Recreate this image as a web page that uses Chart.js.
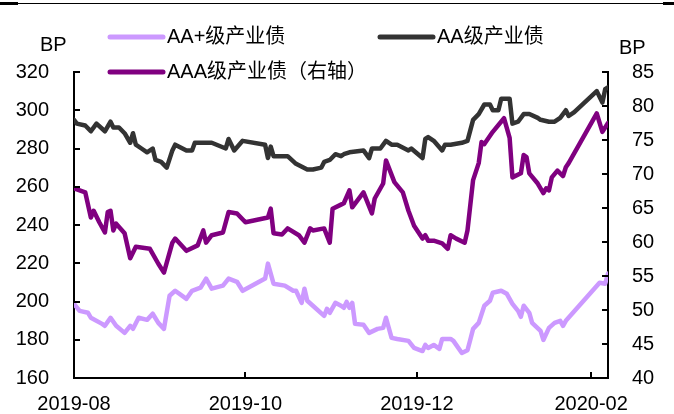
<!DOCTYPE html>
<html lang="zh-CN">
<head>
<meta charset="utf-8">
<title>产业债信用利差</title>
<script src="https://cdn.jsdelivr.net/npm/chart.js@4.4.1/dist/chart.umd.min.js"></script>
<style>
  html, body { margin: 0; padding: 0; background: #fff; }
  #wrap { position: relative; width: 674px; height: 414px; }
</style>
</head>
<body>
<div id="wrap"><canvas id="spread"></canvas></div>
<script>
// x values are days counted from 2019-08-01
const tickDays = [0, 61, 122, 184];
const tickLabels = ['2019-08', '2019-10', '2019-12', '2020-02'];

// AA+ 级产业债 (left axis, BP)
const aaPlusDays = [0, 2, 5, 6, 10, 11, 13, 15, 18, 20, 21, 23, 26, 28, 30, 32, 34, 36, 40, 42,
  45, 47, 49, 53, 55, 58, 60, 68, 69, 71, 75, 78, 79, 81, 82, 83, 85, 89, 90, 91,
  93, 95, 96, 97, 98, 99, 100, 103, 105, 108, 110, 111, 113, 115, 119, 121, 124, 125, 126, 128,
  130, 131, 134, 135, 138, 140, 141, 142, 144, 146, 148, 149, 152, 154, 156, 158, 159, 160, 162, 163,
  166, 167, 169, 171, 173, 174, 175, 187, 189, 190];
const aaPlusValues = [198.8, 195.1, 194.1, 191.5, 188.3, 187.3, 191.5, 187.3, 183.6, 187.3, 185.7, 191.5, 190.4, 193.6, 188.8, 185.7, 203.0, 205.6, 201.4, 205.6,
  207.2, 212.0, 206.7, 208.3, 212.0, 210.3, 205.6, 212.0, 219.8, 209.3, 208.3, 205.6, 205.6, 199.3, 206.7, 200.4, 197.8, 192.5, 196.2, 194.1,
  199.3, 197.8, 196.7, 199.8, 196.7, 199.3, 188.3, 187.8, 183.6, 185.7, 186.2, 191.5, 181.0, 180.4, 179.4, 175.7, 174.1, 177.3, 175.7, 177.3,
  175.2, 180.4, 180.4, 179.4, 173.1, 174.5, 180.0, 185.7, 188.8, 197.8, 200.4, 204.6, 205.6, 204.0, 198.8, 195.1, 192.0, 197.8, 194.1, 188.8,
  184.6, 179.9, 186.2, 188.8, 189.9, 187.3, 189.9, 209.8, 209.3, 214.6];

// AA 级产业债 (left axis, BP)
const aaDays = [0, 1, 4, 6, 8, 11, 13, 14, 16, 18, 20, 21, 22, 24, 26, 28, 29, 31, 33, 35,
  36, 40, 42, 43, 49, 54, 55, 57, 60, 68, 69, 70, 71, 76, 79, 83, 85, 88, 89, 91,
  93, 95, 96, 98, 103, 105, 106, 109, 111, 113, 115, 119, 120, 124, 125, 126, 128, 131, 132, 134,
  138, 140, 142, 144, 146, 148, 149, 151, 152, 155, 156, 158, 160, 162, 165, 166, 169, 171, 173, 175,
  176, 178, 186, 188, 189, 190];
const aaValues = [295, 293, 292, 289, 293, 289, 294, 291, 291, 288, 283, 288, 282, 280, 278, 280, 274, 273, 270, 279,
  282, 279, 279, 283, 283, 280, 285, 279, 284, 282, 275, 281, 276, 276, 272, 269, 269, 270, 273, 274,
  277, 276, 277, 278, 279, 275, 280, 280, 284, 282, 282, 279, 280, 275, 285, 286, 284, 279, 282, 282,
  283, 284, 295, 298, 303, 303, 300, 300, 306, 306, 293, 294, 298, 298, 296, 295, 294, 294, 296, 300,
  297, 299, 310, 304, 311, 312];

// AAA 级产业债 (right axis, BP)
const aaaDays = [0, 4, 6, 7, 9, 11, 12, 13, 14, 15, 18, 20, 22, 27, 30, 32, 35, 36, 40, 44,
  46, 47, 49, 53, 55, 58, 61, 69, 70, 71, 74, 76, 80, 82, 84, 85, 89, 91, 92, 95,
  96, 98, 99, 103, 106, 107, 110, 111, 114, 117, 119, 121, 124, 125, 126, 128, 131, 133, 134, 136,
  139, 140, 142, 144, 145, 146, 149, 153, 155, 156, 159, 160, 161, 162, 165, 167, 168, 169, 170, 172,
  174, 175, 176, 186, 188, 190];
const aaaValues = [67.9, 67.3, 63.6, 64.6, 62.9, 61.4, 64.4, 64.6, 61.7, 62.7, 61.3, 57.6, 59.3, 59.0, 56.8, 55.5, 59.9, 60.5, 58.7, 59.5,
  61.7, 59.9, 61.0, 61.4, 64.4, 64.2, 62.9, 63.6, 64.9, 61.3, 61.1, 62.0, 61.0, 59.9, 62.0, 61.7, 62.0, 59.9, 64.9, 65.5,
  65.7, 67.6, 65.1, 67.3, 64.2, 66.4, 68.6, 72.0, 68.8, 67.3, 64.6, 62.4, 60.5, 61.0, 60.2, 60.2, 59.8, 59.0, 61.0, 60.5,
  59.9, 61.7, 69.1, 71.6, 74.7, 74.4, 76.2, 78.2, 75.3, 69.5, 70.1, 72.8, 72.5, 70.1, 68.6, 67.2, 67.9, 67.6, 69.5, 70.5,
  69.7, 71.0, 71.6, 78.9, 76.2, 77.5];

const FONT_FAMILY = '"Liberation Sans", Arial, "Noto Sans CJK SC", sans-serif';
Chart.defaults.font.family = FONT_FAMILY;
Chart.defaults.font.size = 20;
Chart.defaults.color = '#000';

const toPoints = (days, values) => days.map((d, i) => ({ x: d, y: values[i] }));

// short tick marks pointing into the plot area
const innerTicks = {
  id: 'innerTicks',
  afterDraw(chart) {
    const { ctx, chartArea: a, scales } = chart;
    ctx.save();
    ctx.strokeStyle = '#000';
    ctx.lineWidth = 2;
    ctx.beginPath();
    scales.y.ticks.forEach(t => {
      const py = Math.round(scales.y.getPixelForValue(t.value));
      ctx.moveTo(a.left, py); ctx.lineTo(a.left + 6, py);
    });
    scales.y1.ticks.forEach(t => {
      const py = Math.round(scales.y1.getPixelForValue(t.value));
      ctx.moveTo(a.right, py); ctx.lineTo(a.right - 6, py);
    });
    scales.x.ticks.forEach(t => {
      const px = Math.round(scales.x.getPixelForValue(t.value));
      ctx.moveTo(px, a.bottom); ctx.lineTo(px, a.bottom - 6);
    });
    ctx.stroke();
    ctx.restore();
  }
};

// legend, unit captions and the rule along the top
const legendSpots = [{ x: 108, y: 37 }, { x: 378, y: 37 }, { x: 108, y: 72 }];
const captions = {
  id: 'captions',
  afterDraw(chart) {
    const ctx = chart.ctx;
    ctx.save();
    ctx.fillStyle = '#000';
    ctx.fillRect(0, 3, chart.width, 1);
    ctx.fillRect(0, 2, 18, 3);
    ctx.fillRect(chart.width - 11, 2, 11, 3);

    ctx.font = '20px ' + FONT_FAMILY;
    ctx.textBaseline = 'middle';
    ctx.textAlign = 'left';
    ctx.fillText('BP', 40, 45);
    ctx.fillText('BP', 619, 48);

    chart.data.datasets.forEach((ds, i) => {
      const s = legendSpots[i];
      ctx.beginPath();
      ctx.strokeStyle = ds.borderColor;
      ctx.lineWidth = 5;
      ctx.lineCap = 'round';
      ctx.moveTo(s.x + 2, s.y);
      ctx.lineTo(s.x + 55, s.y);
      ctx.stroke();
      ctx.fillStyle = '#000';
      ctx.fillText(ds.label, s.x + 59, s.y);
    });
    ctx.restore();
  }
};

new Chart(document.getElementById('spread'), {
  type: 'line',
  data: {
    datasets: [
      {
        label: 'AA+级产业债',
        data: toPoints(aaPlusDays, aaPlusValues),
        borderColor: '#CC99FF',
        yAxisID: 'y'
      },
      {
        label: 'AA级产业债',
        data: toPoints(aaDays, aaValues),
        borderColor: '#333333',
        yAxisID: 'y'
      },
      {
        label: 'AAA级产业债（右轴）',
        data: toPoints(aaaDays, aaaValues),
        borderColor: '#800080',
        yAxisID: 'y1'
      }
    ]
  },
  options: {
    responsive: true,
    maintainAspectRatio: false,
    animation: false,
    devicePixelRatio: 1,
    layout: { padding: { top: 72, left: 0, right: 0, bottom: 0 } },
    elements: {
      line: { borderWidth: 4.5, tension: 0, borderJoinStyle: 'round', borderCapStyle: 'round' },
      point: { radius: 0, hoverRadius: 0 }
    },
    plugins: {
      legend: { display: false },
      tooltip: { enabled: false }
    },
    scales: {
      x: {
        type: 'linear',
        min: 0,
        max: 190,
        grid: { display: false },
        border: { display: true, color: '#000', width: 2 },
        afterBuildTicks: axis => { axis.ticks = tickDays.map(v => ({ value: v })); },
        afterFit: axis => { axis.height = 36; },
        ticks: {
          padding: 6,
          maxRotation: 0,
          autoSkip: false,
          callback: v => tickLabels[tickDays.indexOf(v)]
        }
      },
      y: {
        position: 'left',
        min: 160,
        max: 320,
        grid: { display: false },
        border: { display: true, color: '#000', width: 2 },
        afterFit: axis => { axis.width = 74; },
        ticks: { stepSize: 20, padding: 17 }
      },
      y1: {
        position: 'right',
        min: 40,
        max: 85,
        grid: { display: false },
        border: { display: true, color: '#000', width: 2 },
        afterFit: axis => { axis.width = 66; },
        ticks: { stepSize: 5, padding: 16 }
      }
    }
  },
  plugins: [innerTicks, captions]
});
</script>
</body>
</html>
